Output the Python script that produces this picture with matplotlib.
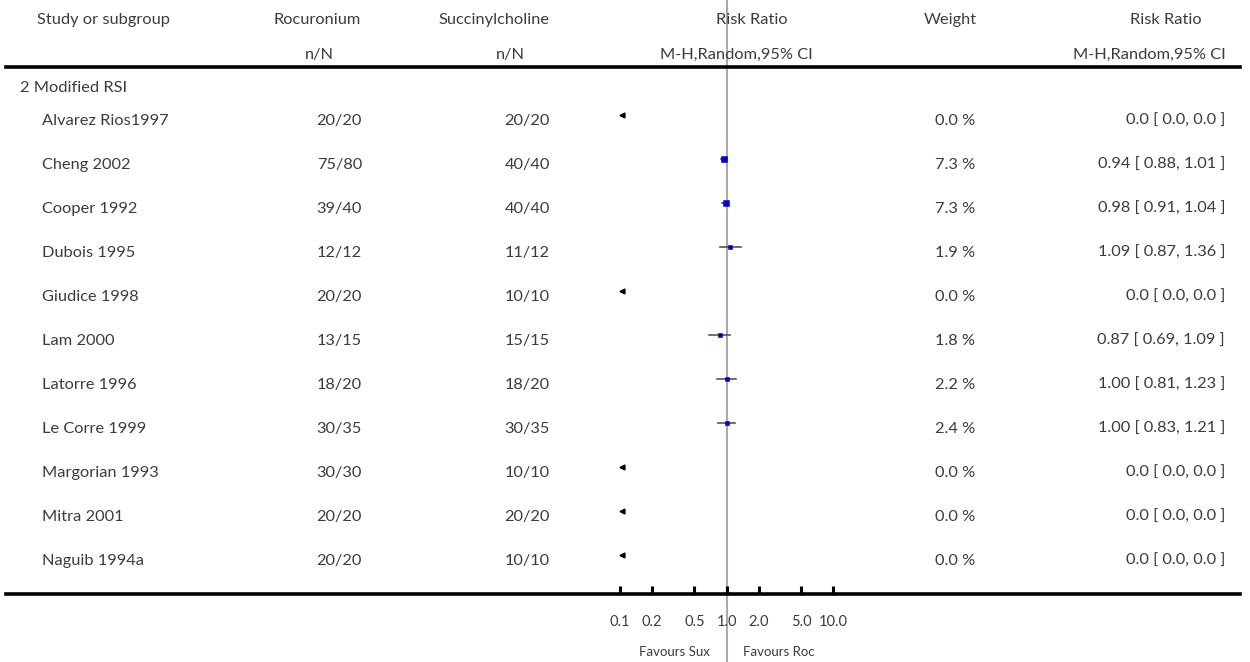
import matplotlib
matplotlib.use('Agg')
import matplotlib.pyplot as plt
from matplotlib.lines import Line2D
from matplotlib.transforms import blended_transform_factory

# data
subgroup = '2 Modified RSI'
studies = ['Alvarez Rios1997', 'Cheng 2002', 'Cooper 1992', 'Dubois 1995',
           'Giudice 1998', 'Lam 2000', 'Latorre 1996', 'Le Corre 1999',
           'Margorian 1993', 'Mitra 2001', 'Naguib 1994a']
roc = ['20/20', '75/80', '39/40', '12/12', '20/20', '13/15', '18/20',
       '30/35', '30/30', '20/20', '20/20']
sux = ['20/20', '40/40', '40/40', '11/12', '10/10', '15/15', '18/20',
       '30/35', '10/10', '20/20', '10/10']
weights = [0.0, 7.3, 7.3, 1.9, 0.0, 1.8, 2.2, 2.4, 0.0, 0.0, 0.0]
rr = [0.0, 0.94, 0.98, 1.09, 0.0, 0.87, 1.00, 1.00, 0.0, 0.0, 0.0]
ci_lo = [0.0, 0.88, 0.91, 0.87, 0.0, 0.69, 0.81, 0.83, 0.0, 0.0, 0.0]
ci_hi = [0.0, 1.01, 1.04, 1.36, 0.0, 1.09, 1.23, 1.21, 0.0, 0.0, 0.0]
ticks = [0.1, 0.2, 0.5, 1.0, 2.0, 5.0, 10.0]
tick_labels = ['0.1', '0.2', '0.5', '1.0', '2.0', '5.0', '10.0']

W, H = 1250, 662
ROW0, PITCH = 121, 44.0        # pixel centre of first study row, row spacing
AX_BOTTOM = 594                # pixel y of the axis line

plt.rcParams['font.family'] = ['Lato', 'DejaVu Sans']
txt = '#3c3c3c'
fs = 11.8

fig = plt.figure(figsize=(W / 100, H / 100), dpi=100)
ax = fig.add_axes([620 / W, 1 - AX_BOTTOM / H, 213 / W, AX_BOTTOM / H])
ax.set_xscale('log')
ax.set_xlim(0.1, 10)
ax.set_ylim((AX_BOTTOM - ROW0) / PITCH, -ROW0 / PITCH)
for s in ax.spines.values():
    s.set_visible(False)
ax.set_yticks([])
ax.set_xticks(ticks)
ax.set_xticklabels(tick_labels, fontsize=10.5, color=txt)
ax.minorticks_off()
ax.tick_params(axis='x', direction='in', length=6, width=2.2, pad=15,
               color='black')
ax.patch.set_alpha(0)


def row(py):
    return (py - ROW0) / PITCH


tr = blended_transform_factory(fig.transFigure, ax.transData)


def put(px, y, s, ha='left', size=fs):
    ax.text(px / W, y, s, transform=tr, ha=ha, va='center', fontsize=size,
            color=txt, clip_on=False)


# line of no effect, full height
ax.axvline(1.0, ymin=-(H - AX_BOTTOM) / AX_BOTTOM, ymax=1, color='#aaaaaa',
           lw=1.5, clip_on=False, zorder=1)

# header
put(37, row(20), 'Study or subgroup')
put(317, row(20), 'Rocuronium', 'center')
put(319, row(55), 'n/N', 'center')
put(494, row(20), 'Succinylcholine', 'center')
put(510, row(55), 'n/N', 'center')
put(752, row(20), 'Risk Ratio', 'center')
put(736, row(55), 'M-H,Random,95% CI', 'center')
put(950, row(20), 'Weight', 'center')
put(1166, row(20), 'Risk Ratio', 'center')
put(1226, row(55), 'M-H,Random,95% CI', 'right')
put(20, row(88), subgroup)

for y_px in (67, AX_BOTTOM):
    fig.add_artist(Line2D([6 / W, 1240 / W], [1 - y_px / H] * 2,
                          transform=fig.transFigure, color='black', lw=2.6))

# rows
mk_off = -6 / PITCH
for i, name in enumerate(studies):
    put(42, i, name)
    put(362, i, roc[i], 'right')
    put(550, i, sux[i], 'right')
    put(975, i, f'{weights[i]:.1f} %', 'right')
    if rr[i] == 0:
        put(1225, i, '0.0 [ 0.0, 0.0 ]', 'right')
        ax.plot(ax.get_xlim()[0] * 1.045, i + mk_off, marker='<', ms=3.5,
                color='black', clip_on=False, zorder=4)
    else:
        put(1225, i, f'{rr[i]:.2f} [ {ci_lo[i]:.2f}, {ci_hi[i]:.2f} ]', 'right')
        ax.plot([ci_lo[i], ci_hi[i]], [i + mk_off] * 2, color='#555555',
                lw=1.2, zorder=3)
        ax.plot(rr[i], i + mk_off, marker='s', ms=1.7 * weights[i] ** 0.5,
                mfc='#0000ff', mec='#0000cc', mew=0.4, zorder=4)
        ax.plot(rr[i], i + mk_off, marker='s', ms=1.3, color='black',
                mew=0, zorder=5)

# favours labels
put(710, row(652), 'Favours Sux', 'right', 9.5)
put(743, row(652), 'Favours Roc', 'left', 9.5)

fig.savefig('out.png', dpi=100)
